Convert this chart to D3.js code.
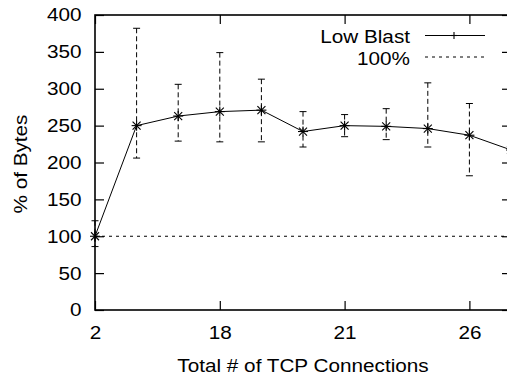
<!DOCTYPE html>
<html>
<head>
<meta charset="utf-8">
<script src="https://cdn.jsdelivr.net/npm/d3@7"></script>
<style>
  html, body { margin: 0; padding: 0; background: #fff; }
  svg { display: block; }
  text { font-family: "Liberation Sans", Arial, sans-serif; fill: #000; }
</style>
</head>
<body>
<svg id="chart" width="507" height="377"></svg>
<script>
// Mean share of bytes per run, with min / max spread
const pointIndex = [0, 1, 2, 3, 4, 5, 6, 7, 8, 9, 10];
const lowBlast   = [100, 250, 263, 269, 271, 242, 250, 249, 246, 237, 217];
const upperBound = [121, 382, 306, 349, 313, 269, 265, 273, 308, 280, 247];
const lowerBound = [86, 206, 229, 228, 228, 221, 235, 231, 221, 182, 176];

// x axis: labelled positions along the run sequence
const xTickIndex  = [0, 3, 6, 9];
const xTickLabels = ["2", "18", "21", "26"];
const yTicks = [0, 50, 100, 150, 200, 250, 300, 350, 400];
const referenceLevel = 100;

const svg = d3.select("#chart");
const plotLeft = 95, plotRight = 511, plotTop = 15, plotBottom = 310;

const x = d3.scaleLinear().domain([0, 10]).range([plotLeft, plotRight]);
const y = d3.scaleLinear().domain([0, 400]).range([plotBottom, plotTop]);

const fontSize = 18.5;
const stretch = 1.12;   // wide lettering
const tickLen = 9;

// Text placed at (tx, ty), widened along its own direction
function label(tx, ty, str, anchor, rotate) {
  return svg.append("text")
    .attr("transform", `translate(${tx},${ty})${rotate ? ` rotate(${rotate})` : ""} scale(${stretch},1)`)
    .attr("text-anchor", anchor)
    .attr("font-size", fontSize)
    .text(str);
}

// Reference line at 100%
svg.append("line")
  .attr("x1", x(0)).attr("x2", x(10))
  .attr("y1", y(referenceLevel)).attr("y2", y(referenceLevel))
  .attr("stroke", "#000").attr("stroke-width", 1)
  .attr("stroke-dasharray", "3,4");

// Error bars
const eb = svg.append("g").attr("stroke", "#000").attr("stroke-width", 1);
pointIndex.forEach((i, k) => {
  const cx = x(i);
  eb.append("line")
    .attr("x1", cx).attr("x2", cx)
    .attr("y1", y(upperBound[k])).attr("y2", y(lowerBound[k]))
    .attr("stroke-dasharray", "5,3");
  [upperBound[k], lowerBound[k]].forEach(v => {
    eb.append("line")
      .attr("x1", cx - 3.5).attr("x2", cx + 3.5)
      .attr("y1", y(v)).attr("y2", y(v));
  });
});

// Data line
const line = d3.line().x((d, k) => x(pointIndex[k])).y(d => y(d));
svg.append("path")
  .datum(lowBlast)
  .attr("d", line)
  .attr("fill", "none")
  .attr("stroke", "#000")
  .attr("stroke-width", 1);

// Asterisk markers
const mk = svg.append("g").attr("stroke", "#000").attr("stroke-width", 1.1);
lowBlast.forEach((v, k) => {
  const cx = x(pointIndex[k]), cy = y(v);
  const p = 5, d = 4;
  mk.append("line").attr("x1", cx - p).attr("x2", cx + p).attr("y1", cy).attr("y2", cy);
  mk.append("line").attr("x1", cx).attr("x2", cx).attr("y1", cy - p).attr("y2", cy + p);
  mk.append("line").attr("x1", cx - d).attr("x2", cx + d).attr("y1", cy - d).attr("y2", cy + d);
  mk.append("line").attr("x1", cx - d).attr("x2", cx + d).attr("y1", cy + d).attr("y2", cy - d);
});

// Frame
svg.append("rect")
  .attr("x", plotLeft).attr("y", plotTop)
  .attr("width", plotRight - plotLeft).attr("height", plotBottom - plotTop)
  .attr("fill", "none").attr("stroke", "#000").attr("stroke-width", 1.6);

// Axes with inward ticks
const yAxisL = d3.axisLeft(y).tickValues(yTicks).tickSize(-tickLen).tickPadding(12);
const gy = svg.append("g").attr("transform", `translate(${plotLeft},0)`).call(yAxisL);
const yAxisR = d3.axisRight(y).tickValues(yTicks).tickSize(-tickLen).tickFormat("");
const gyr = svg.append("g").attr("transform", `translate(${plotRight},0)`).call(yAxisR);

const xAxisB = d3.axisBottom(x).tickValues(xTickIndex)
  .tickFormat((d, i) => xTickLabels[i]).tickSize(-tickLen).tickPadding(16);
const gx = svg.append("g").attr("transform", `translate(0,${plotBottom})`).call(xAxisB);
const xAxisT = d3.axisTop(x).tickValues(xTickIndex).tickSize(-tickLen).tickFormat("");
const gxt = svg.append("g").attr("transform", `translate(0,${plotTop})`).call(xAxisT);

[gy, gyr, gx, gxt].forEach(g => {
  g.select(".domain").remove();
  g.selectAll(".tick line").attr("stroke", "#000").attr("stroke-width", 1.2);
  g.selectAll("text").attr("font-size", fontSize)
    .attr("transform", `scale(${stretch},1)`)
    .style("font-family", "'Liberation Sans', Arial, sans-serif").attr("fill", "#000");
});

// Axis titles
label((plotLeft + plotRight) / 2, 371.5, "Total # of TCP Connections", "middle");
label(26.5, (plotTop + plotBottom) / 2 + 1.5, "% of Bytes", "middle", -90);

// Legend
label(410, 43, "Low Blast", "end");
svg.append("line").attr("x1", 425).attr("x2", 485).attr("y1", 35.5).attr("y2", 35.5)
  .attr("stroke", "#000").attr("stroke-width", 1);
svg.append("line").attr("x1", 454).attr("x2", 454).attr("y1", 32).attr("y2", 39)
  .attr("stroke", "#000").attr("stroke-width", 1.1);
svg.append("line").attr("x1", 450.5).attr("x2", 457.5).attr("y1", 35.5).attr("y2", 35.5)
  .attr("stroke", "#000").attr("stroke-width", 1.1);
label(410, 64.5, "100%", "end");
svg.append("line").attr("x1", 425).attr("x2", 485).attr("y1", 57).attr("y2", 57)
  .attr("stroke", "#000").attr("stroke-width", 1).attr("stroke-dasharray", "3,4");
</script>
</body>
</html>
